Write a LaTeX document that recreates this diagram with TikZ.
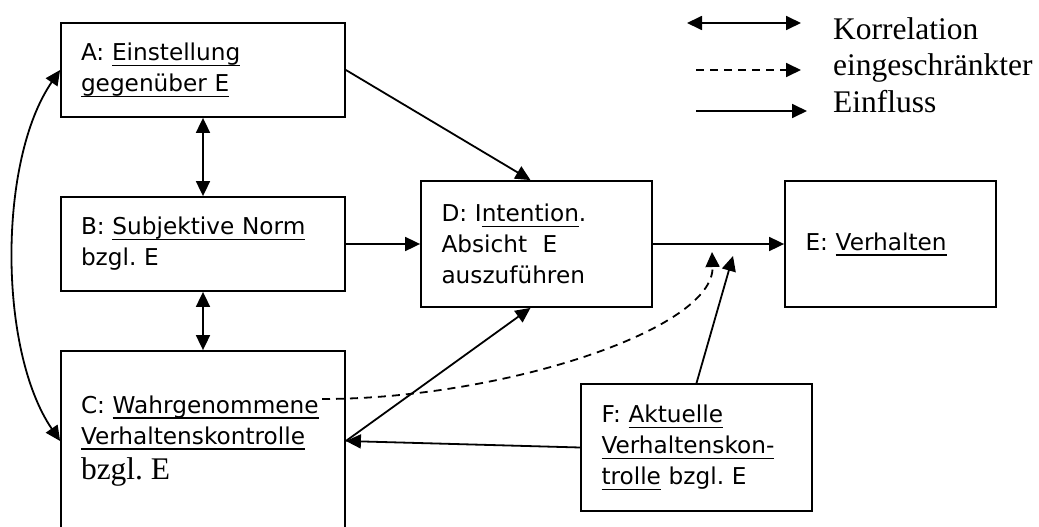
\documentclass[tikz,border=0pt]{standalone}
\usepackage{fontspec}
\setmainfont{DejaVu Sans}
\newfontfamily\legendfont{Liberation Serif}
\usepackage{tikz}
\usetikzlibrary{arrows.meta, positioning, calc}
\frenchspacing
\newsavebox\undlbox
\newcommand{\undl}[1]{\leavevmode\sbox\undlbox{#1}\rlap{\rule[-5.5pt]{\wd\undlbox}{1.5pt}}\usebox\undlbox}
\tikzstyle{box} = [rectangle, draw, line width=1.8pt, align=left, inner xsep=20pt, inner ysep=0pt, font=\fontsize{23.2}{31}\selectfont]
\tikzstyle{arrow} = [-{Triangle[length=15pt,width=14pt]}, line width=1.8pt]
\tikzstyle{corr} = [{Triangle[length=15pt,width=14pt]}-{Triangle[length=15pt,width=14pt]}, line width=1.8pt]
\tikzstyle{weak} = [arrow, dash pattern=on 8pt off 6pt]
\tikzstyle{legend} = [anchor=base west, inner sep=0pt, font=\legendfont\fontsize{31.5}{36}\selectfont]

\begin{document}
\begin{tikzpicture}[x=1pt, y=-1pt]
    \useasboundingbox (0,0) rectangle (1039,527);
    \clip (0,0) rectangle (1039,527);

    % Left column
    \node[box, minimum width=284pt, minimum height=94pt, text width=244pt] (A) at (203,70) {A:~\undl{Einstellung}\\\undl{gegenüber E}};
    \node[box, minimum width=284pt, minimum height=94pt, text width=244pt] (B) at (203,244) {B:~\undl{Subjektive Norm}\\bzgl. E};
    \node[box, minimum width=284pt, minimum height=180pt, text width=244pt] (C) at (203,441) {C:~\undl{Wahrgenommene}\\\undl{Verhaltenskontrolle}\\[4pt]{\legendfont\fontsize{31.5}{36}\selectfont bzgl. E}};

    % Intention and behaviour
    \node[box, minimum width=231pt, minimum height=126pt, text width=190pt] (D) at (536.5,244) {D: I\undl{ntention}.\\Absicht\ \ E\\auszuführen};
    \node[box, minimum width=211pt, minimum height=126pt, text width=170pt] (E) at (890.5,244) {E: \undl{Verhalten}};

    % Actual control
    \node[box, minimum width=231pt, minimum height=127pt, text width=190pt] (F) at (696.5,447.5) {F: \undl{Aktuelle}\\\undl{Verhaltenskon-}\\\undl{trolle} bzgl. E};

    % Correlations
    \draw[corr] (A.south) -- (B.north);
    \draw[corr] (B.south) -- (C.north);
    \draw[corr] (A.west) .. controls (-2,160) and (-2,350) .. (C.west);

    % Influences
    \draw[arrow] (A.east) -- ([xshift=-6pt]D.north);
    \draw[arrow] (B.east) -- (D.west);
    \draw[arrow] (C.east) -- ([xshift=-6pt]D.south);
    \draw[arrow] (F.west) -- (C.east);
    \draw[arrow] (D.east) -- (E.west);

    % Moderation of D -> E
    \coordinate (wahr) at (322,399);
    \coordinate (dtip) at (712,252);
    \coordinate (ftip) at (733,256);
    \draw[weak] (wahr) .. controls (500,399) and (715,330) .. (dtip);
    \draw[arrow] (F.north) -- (ftip);

    % Legend
    \node[legend] (korr) at (833,40) {Korrelation};
    \node[legend] (einge) at (833,75) {eingeschränkter};
    \node[legend] (einfl) at (833,113) {Einfluss};
    \coordinate (k1) at (687,23);
    \coordinate (k2) at (801,23);
    \coordinate (e1) at (696,70);
    \coordinate (e2) at (801,70);
    \coordinate (f1) at (696,111);
    \coordinate (f2) at (807,111);
    \draw[corr] (k1) -- (k2);
    \draw[weak] (e1) -- (e2);
    \draw[arrow] (f1) -- (f2);
\end{tikzpicture}
\end{document}
